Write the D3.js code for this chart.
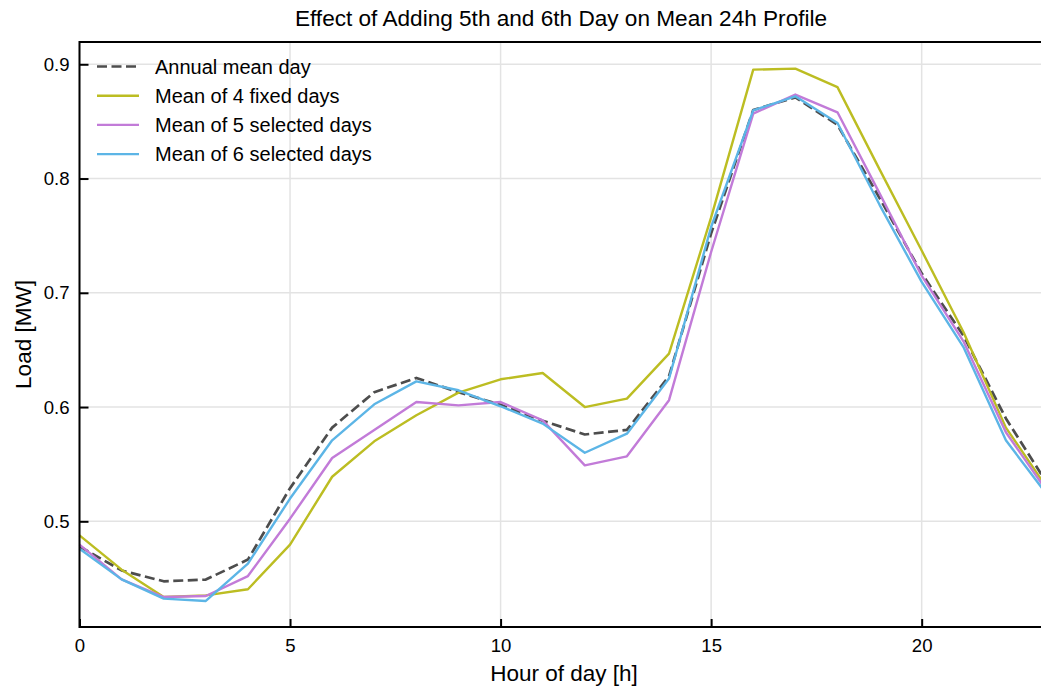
<!DOCTYPE html>
<html lang="en">
<head>
<meta charset="UTF-8">
<title>Mean 24h Profile</title>
<style>
  body { margin: 0; background: #fff; }
  text { font-family: "Liberation Sans", Arial, sans-serif; fill: #000; }
</style>
</head>
<body>
<svg width="1041" height="691"></svg>
<script src="https://d3js.org/d3.v7.min.js"></script>
<script>

  var hours = d3.range(0, 24);

  var annualMean = [0.478, 0.457, 0.4475, 0.449, 0.4665, 0.529, 0.582, 0.613, 0.6255, 0.613,
                    0.602, 0.588, 0.576, 0.58, 0.627, 0.752, 0.86, 0.871, 0.847, 0.783,
                    0.717, 0.662, 0.59, 0.532];
  var fixed4 = [0.4877, 0.4577, 0.4337, 0.4352, 0.4405, 0.4796, 0.539, 0.570, 0.5928, 0.6126,
                0.6243, 0.6298, 0.600, 0.6074, 0.6468, 0.766, 0.8953, 0.8962, 0.880, 0.808,
                0.737, 0.665, 0.582, 0.528];
  var selected5 = [0.4796, 0.4492, 0.4337, 0.4346, 0.4521, 0.5023, 0.5554, 0.580, 0.6044, 0.6015,
                   0.6044, 0.5884, 0.549, 0.5569, 0.606, 0.7357, 0.8568, 0.8735, 0.858, 0.787,
                   0.715, 0.657, 0.578, 0.525];
  var selected6 = [0.476, 0.4492, 0.4323, 0.4303, 0.463, 0.5199, 0.5709, 0.6024, 0.6225, 0.6147,
                   0.6007, 0.5855, 0.560, 0.5767, 0.625, 0.7576, 0.8597, 0.872, 0.8486, 0.777,
                   0.7095, 0.652, 0.571, 0.522];

  var seriesNames = ["Annual mean day", "Mean of 4 fixed days", "Mean of 5 selected days", "Mean of 6 selected days"];
  var seriesColors = ["#4d4d4d", "#bcbd22", "#c27bd8", "#5cb5e6"];
  var seriesDashes = ["10,4.5", null, null, null];

  var xTicks = [0, 5, 10, 15, 20];
  var yTicks = [0.5, 0.6, 0.7, 0.8, 0.9];

  var series = [annualMean, fixed4, selected5, selected6].map(function(vals, i) {
    return {name: seriesNames[i], color: seriesColors[i], dash: seriesDashes[i], values: vals};
  });

  var margin = {top: 42, left: 79.5};
  var plotWidth = 968.5;
  var plotHeight = 585;

  var svg = d3.select("svg");
  var g = svg.append("g").attr("transform", "translate(" + margin.left + "," + margin.top + ")");

  var x = d3.scaleLinear().domain([0, 23]).range([0, plotWidth]);
  var y = d3.scaleLinear().domain([0.4075, 0.9195]).range([plotHeight, 0]);

  // grid
  g.append("g").selectAll("line").data(xTicks).enter().append("line")
    .attr("x1", function(d) { return x(d); }).attr("x2", function(d) { return x(d); })
    .attr("y1", 0).attr("y2", plotHeight)
    .attr("stroke", "#e3e3e3").attr("stroke-width", 1.5);
  g.append("g").selectAll("line").data(yTicks).enter().append("line")
    .attr("y1", function(d) { return y(d); }).attr("y2", function(d) { return y(d); })
    .attr("x1", 0).attr("x2", plotWidth)
    .attr("stroke", "#e3e3e3").attr("stroke-width", 1.5);

  // lines
  var line = d3.line()
    .x(function(d, i) { return x(hours[i]); })
    .y(function(d) { return y(d); });

  g.selectAll(".series").data(series).enter().append("path")
    .attr("class", "series")
    .attr("d", function(d) { return line(d.values); })
    .attr("fill", "none")
    .attr("stroke", function(d) { return d.color; })
    .attr("stroke-width", function(d) { return d.dash ? 2.7 : 2.4; })
    .attr("stroke-dasharray", function(d) { return d.dash; })
    .attr("stroke-linejoin", "round");

  // axes (ticks inward)
  var xAxis = g.append("g").attr("transform", "translate(0," + plotHeight + ")")
    .call(d3.axisBottom(x).tickValues(xTicks).tickFormat(d3.format("d")).tickSize(-8).tickPadding(12).tickSizeOuter(0));
  var yAxis = g.append("g")
    .call(d3.axisLeft(y).tickValues(yTicks).tickFormat(d3.format(".1f")).tickSize(-9).tickPadding(10).tickSizeOuter(0));
  [xAxis, yAxis].forEach(function(a) {
    a.attr("font-size", 18.6).attr("font-family", null);
    a.select(".domain").remove();
    a.selectAll("line").attr("stroke", "#000").attr("stroke-width", 2);
  });

  // frame
  g.append("rect").attr("x", 0).attr("y", 0).attr("width", plotWidth).attr("height", plotHeight)
    .attr("fill", "none").attr("stroke", "#000").attr("stroke-width", 2);

  // title and labels
  svg.append("text").attr("x", 561).attr("y", 26).attr("text-anchor", "middle")
    .style("font-size", "22.6px").text("Effect of Adding 5th and 6th Day on Mean 24h Profile");
  svg.append("text").attr("x", 564).attr("y", 681).attr("text-anchor", "middle")
    .style("font-size", "22.5px").text("Hour of day [h]");
  svg.append("text").attr("transform", "translate(31," + (margin.top + plotHeight / 2) + ") rotate(-90)")
    .attr("text-anchor", "middle").style("font-size", "22.5px").text("Load [MW]");

  // legend
  var legend = svg.append("g").selectAll("g").data(series).enter().append("g")
    .attr("transform", function(d, i) { return "translate(97," + (66.5 + i * 29.2) + ")"; });
  legend.append("line").attr("x1", 0).attr("x2", 42).attr("y1", 0).attr("y2", 0)
    .attr("stroke", function(d) { return d.color; })
    .attr("stroke-width", function(d) { return d.dash ? 2.7 : 2.4; })
    .attr("stroke-dasharray", function(d) { return d.dash; });
  legend.append("text").attr("x", 58).attr("y", 7).style("font-size", "20px")
    .text(function(d) { return d.name; });

</script>
</body>
</html>
